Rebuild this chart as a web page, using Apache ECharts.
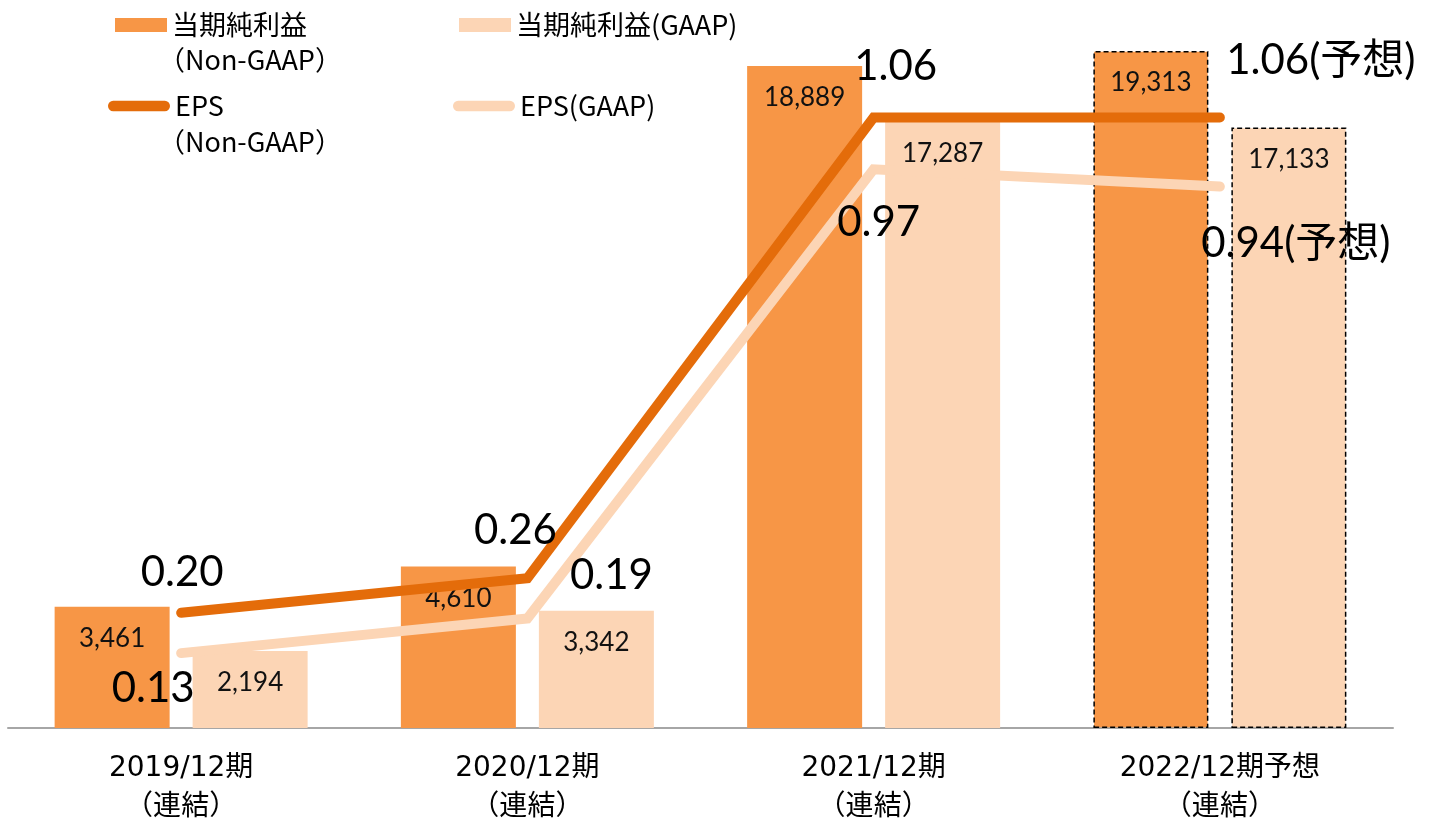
<!DOCTYPE html>
<html>
<head>
<meta charset="utf-8">
<script src="https://cdn.jsdelivr.net/npm/echarts@6/dist/echarts.min.js"></script>
<style>
html,body{margin:0;padding:0;background:#fff;}
#chart{width:1437px;height:827px;}
</style>
</head>
<body>
<div id="chart"></div>
<script>
const categories = ['2019/12期\n（連結）', '2020/12期\n（連結）', '2021/12期\n（連結）', '2022/12期予想\n（連結）'];
const netIncomeNonGaap = [3461, 4610, 18889, 19313];
const netIncomeGaap = [2194, 3342, 17287, 17133];
const epsNonGaap = [0.20, 0.26, 1.06, 1.06];
const epsGaap = [0.13, 0.19, 0.97, 0.94];
const epsNonGaapLabels = ['0.20', '0.26', '1.06', '1.06(予想)'];
const epsGaapLabels = ['0.13', '0.19', '0.97', '0.94(予想)'];
const forecastIndex = 3;

const C_DARK_BAR = '#F79646';
const C_LIGHT = '#FCD5B5';
const C_DARK_LINE = '#E46C0A';
const NUM_FONT = "Lato, 'Noto Sans CJK JP', sans-serif";
const JP_FONT = "'Noto Sans CJK JP', sans-serif";
const AXIS_FONT = "'DejaVu Sans', 'Noto Sans CJK JP', sans-serif";

// label offsets (layout only)
const nonGaapOffsets = [[1, -40], [-12, -48], [22, -51], [101, -57]];
const gaapOffsets = [[-28, 35], [84, -43], [5, 53], [76, 57]];

function barData(values, color) {
  return values.map((v, i) => i === forecastIndex
    ? { value: v, itemStyle: { color: color, borderColor: '#000', borderWidth: 1.5, borderType: [5, 3] } }
    : v);
}
function lineData(values, labels, offsets) {
  return values.map((v, i) => ({
    value: v,
    label: { formatter: labels[i], offset: offsets[i] }
  }));
}

const lineIcon = 'path://M5,0 L55,0 A5,5 0 0 1 55,10 L5,10 A5,5 0 0 1 5,0 Z';

const names = ['当期純利益（Non-GAAP）', '当期純利益(GAAP)', 'EPS（Non-GAAP）', 'EPS(GAAP)'];
const legendText = { fontFamily: JP_FONT, fontSize: 27, color: '#000', lineHeight: 30 };

const option = {
  animation: false,
  backgroundColor: '#fff',
  grid: { left: 8, right: 44, top: 27, bottom: 98, containLabel: false },
  legend: [
    { left: 115, top: 10, padding: 0, itemWidth: 52, itemHeight: 14, icon: 'rect', itemGap: 0,
      data: [names[0]], formatter: () => '当期純利益', textStyle: legendText, selectedMode: false },
    { left: 459, top: 10, padding: 0, itemWidth: 52, itemHeight: 14, icon: 'rect', itemGap: 0,
      data: [names[1]], formatter: () => '当期純利益(GAAP)', textStyle: legendText, selectedMode: false },
    { left: 108, top: 91, padding: 0, itemWidth: 62, itemHeight: 11, itemGap: 0,
      data: [{ name: names[2], icon: lineIcon }], formatter: () => 'EPS', textStyle: legendText, selectedMode: false },
    { left: 453, top: 91, padding: 0, itemWidth: 62, itemHeight: 11, itemGap: 0,
      data: [{ name: names[3], icon: lineIcon }], formatter: () => 'EPS(GAAP)', textStyle: legendText, selectedMode: false }
  ],
  graphic: [
    { type: 'text', left: 158, top: 46, style: { text: '（Non-GAAP）', font: "27px 'Noto Sans CJK JP'", fill: '#000' } },
    { type: 'text', left: 158, top: 128, style: { text: '（Non-GAAP）', font: "27px 'Noto Sans CJK JP'", fill: '#000' } }
  ],
  xAxis: {
    type: 'category',
    data: categories,
    boundaryGap: true,
    axisLine: { show: true, lineStyle: { color: '#A6A6A6', width: 2 } },
    axisTick: { show: false },
    axisLabel: { fontFamily: AXIS_FONT, fontSize: 28, color: '#000', lineHeight: 39, margin: 21, interval: 0 }
  },
  yAxis: [
    { type: 'value', min: 0, max: 20000, show: false, splitLine: { show: false } },
    { type: 'value', min: 0, max: 1.217, show: false, splitLine: { show: false } }
  ],
  series: [
    {
      name: names[0], type: 'bar', yAxisIndex: 0, barWidth: 115, barGap: '20%',
      itemStyle: { color: C_DARK_BAR },
      label: { show: true, position: 'insideTop', distance: 19, fontFamily: NUM_FONT, fontSize: 26, color: '#111',
        formatter: p => p.value.toLocaleString('en-US') },
      data: barData(netIncomeNonGaap, C_DARK_BAR), z: 2
    },
    {
      name: names[1], type: 'bar', yAxisIndex: 0, barWidth: 115, barGap: '20%',
      itemStyle: { color: C_LIGHT },
      label: { show: true, position: 'insideTop', distance: 19, fontFamily: NUM_FONT, fontSize: 26, color: '#111',
        formatter: p => p.value.toLocaleString('en-US') },
      data: barData(netIncomeGaap, C_LIGHT), z: 2
    },
    {
      name: names[3], type: 'line', yAxisIndex: 1, symbol: 'circle', symbolSize: 1, showSymbol: true,
      itemStyle: { color: C_LIGHT },
      lineStyle: { color: C_LIGHT, width: 10, cap: 'round', join: 'miter' },
      label: { show: true, position: 'inside', fontFamily: NUM_FONT, fontSize: 42, color: '#000', align: 'center', verticalAlign: 'middle' },
      data: lineData(epsGaap, epsGaapLabels, gaapOffsets), z: 5
    },
    {
      name: names[2], type: 'line', yAxisIndex: 1, symbol: 'circle', symbolSize: 1, showSymbol: true,
      itemStyle: { color: C_DARK_LINE },
      lineStyle: { color: C_DARK_LINE, width: 10, cap: 'round', join: 'miter' },
      label: { show: true, position: 'inside', fontFamily: NUM_FONT, fontSize: 42, color: '#000', align: 'center', verticalAlign: 'middle' },
      data: lineData(epsNonGaap, epsNonGaapLabels, nonGaapOffsets), z: 6
    }
  ]
};

const chart = echarts.init(document.getElementById('chart'), null, { renderer: 'canvas' });
chart.setOption(option);
</script>
</body>
</html>
